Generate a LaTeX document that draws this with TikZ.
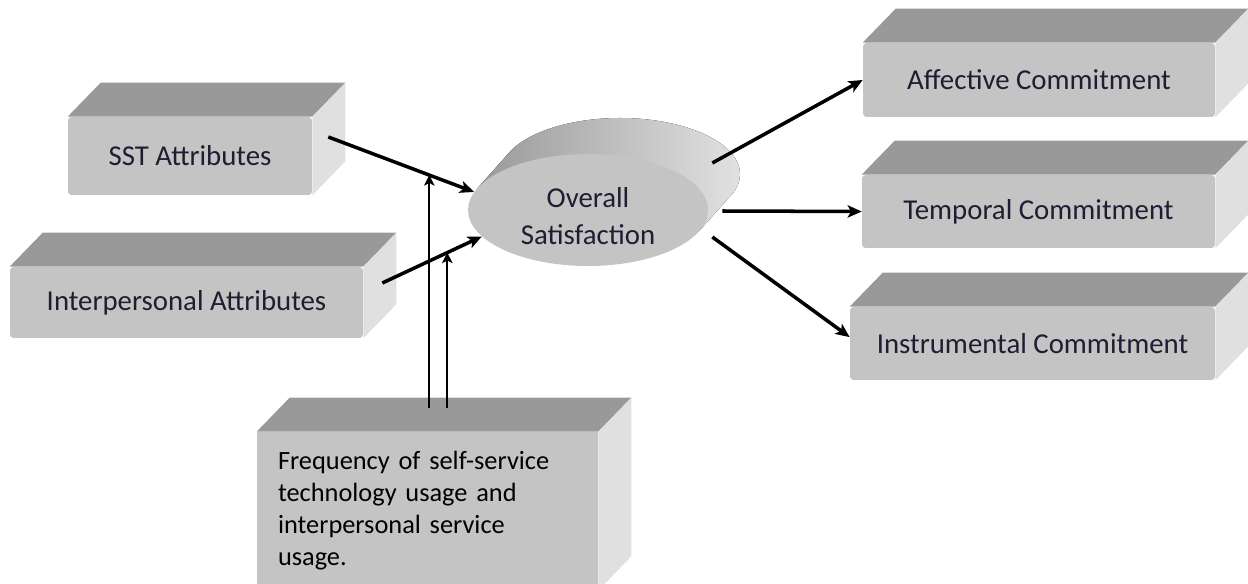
\documentclass[tikz,border=0pt]{standalone}
\usepackage{fontspec}
\setmainfont{Carlito}
\usetikzlibrary{shapes.geometric,arrows.meta,calc}

\definecolor{frontgray}{HTML}{C4C4C4}
\definecolor{topgray}{HTML}{999999}
\definecolor{sidegray}{HTML}{E0E0E0}
\definecolor{labelink}{HTML}{1E1E32}

\tikzset{
  block/.style={rectangle, rounded corners=2pt, fill=frontgray, text=labelink,
    font=\fontsize{16.4}{19.7}\selectfont, inner sep=0pt},
  oval/.style={ellipse, fill=frontgray, inner sep=0pt, minimum width=4.8cm, minimum height=2.24cm},
  arr/.style={line width=2pt, -{Stealth[length=8pt,width=7pt,inset=2pt]}},
  thinarr/.style={line width=1.2pt, -{Stealth[length=6pt,width=6pt,inset=1.5pt]}},
}

% top and right faces of a block, pushed back by (33,-34)
\newcommand{\blockfaces}[1]{%
  \fill[topgray] (#1.north west) -- ++(33,-34) -- ($(#1.north east)+(33,-34)$) -- (#1.north east) -- cycle;
  \fill[sidegray] (#1.north east) -- ++(33,-34) -- ($(#1.south east)+(33,-34)$) -- (#1.south east) -- cycle;
}

\begin{document}
\begin{tikzpicture}[x=0.02cm, y=-0.02cm]
\clip (0,0) rectangle (1248,584);

% left blocks
\node[block, minimum width=4.88cm, minimum height=1.56cm] (sst) at (190,156) {SST Attributes};
\blockfaces{sst}
\node[block, minimum width=7.06cm, minimum height=1.42cm] (inter) at (186.5,302.5) {Interpersonal Attributes};
\blockfaces{inter}

% right blocks
\node[block, minimum width=7.04cm, minimum height=1.48cm] (affective) at (1039,80) {Affective Commitment};
\blockfaces{affective}
\node[block, minimum width=7.06cm, minimum height=1.46cm] (temporal) at (1038.5,211.5) {Temporal Commitment};
\blockfaces{temporal}
\node[block, minimum width=7.3cm, minimum height=1.46cm] (instrumental) at (1032.5,343.5) {Instrumental Commitment};
\blockfaces{instrumental}

% bottom block
\node[block, rounded corners=0pt, text=black, font=\fontsize{15}{18.2}\selectfont,
  align=left, text width=5.98cm, inner xsep=0.42cm, minimum width=6.82cm, minimum height=3.16cm]
  (freq) at (427.5,511) {Frequency of self-service\\technology usage and\\interpersonal service\\usage.};
\blockfaces{freq}

% the disc: shaded rim first, then the front face
\coordinate (oc) at (588,210);
\fill[left color=black!40, right color=black!10] ($(oc)+(202.5:120 and 56)$) -- ++(32,-36)
  arc[start angle=202.5, end angle=382.5, x radius=120, y radius=56] -- ++(-32,36) -- cycle;
\node[oval] (overall) at (oc) {};
\node[text=labelink, font=\fontsize{16.4}{21.5}\selectfont, align=center] (overallText) at (588,216) {Overall\\Satisfaction};

% arrows in
\coordinate (sstOut) at ($(sst.east)+(16,-19)$);
\coordinate (interOut) at ($(inter.east)+(19,-19.5)$);
\draw[arr] (sstOut) -- coordinate[pos=0.693] (sstMid) (overall.171);
\draw[arr] (interOut) -- coordinate[pos=0.653] (interMid) (overall.194);

% moderating arrows
\coordinate (freqTop) at ($(freq.north)+(0,-24)$);
\draw[thinarr] (sstMid |- freqTop) -- (sstMid);
\draw[thinarr] (interMid |- freqTop) -- (interMid);

% arrows out
\coordinate (outA) at ($(overall.east)+(4,-47)$);
\coordinate (outB) at ($(overall.east)+(14,1)$);
\coordinate (outC) at ($(overall.east)+(4,27)$);
\draw[arr] (outA) -- (affective.west);
\draw[arr] (outB) -- (temporal.west);
\draw[arr] (outC) -- (instrumental.178);

\end{tikzpicture}
\end{document}
